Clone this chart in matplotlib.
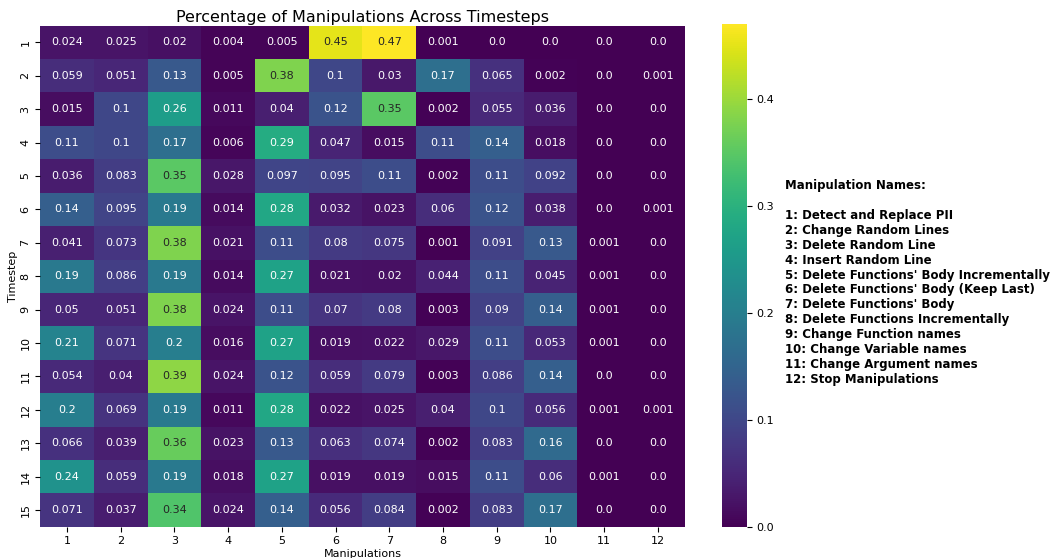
import numpy as np
import matplotlib
matplotlib.use("Agg")
import matplotlib.pyplot as plt
import seaborn as sns

timesteps = [str(i) for i in range(1, 16)]
manipulations = [str(i) for i in range(1, 13)]

row1 = [0.024, 0.025, 0.02, 0.004, 0.005, 0.45, 0.47, 0.001, 0.0, 0.0, 0.0, 0.0]
row2 = [0.059, 0.051, 0.13, 0.005, 0.38, 0.1, 0.03, 0.17, 0.065, 0.002, 0.0, 0.001]
row3 = [0.015, 0.1, 0.26, 0.011, 0.04, 0.12, 0.35, 0.002, 0.055, 0.036, 0.0, 0.0]
row4 = [0.11, 0.1, 0.17, 0.006, 0.29, 0.047, 0.015, 0.11, 0.14, 0.018, 0.0, 0.0]
row5 = [0.036, 0.083, 0.35, 0.028, 0.097, 0.095, 0.11, 0.002, 0.11, 0.092, 0.0, 0.0]
row6 = [0.14, 0.095, 0.19, 0.014, 0.28, 0.032, 0.023, 0.06, 0.12, 0.038, 0.0, 0.001]
row7 = [0.041, 0.073, 0.38, 0.021, 0.11, 0.08, 0.075, 0.001, 0.091, 0.13, 0.001, 0.0]
row8 = [0.19, 0.086, 0.19, 0.014, 0.27, 0.021, 0.02, 0.044, 0.11, 0.045, 0.001, 0.0]
row9 = [0.05, 0.051, 0.38, 0.024, 0.11, 0.07, 0.08, 0.003, 0.09, 0.14, 0.001, 0.0]
row10 = [0.21, 0.071, 0.2, 0.016, 0.27, 0.019, 0.022, 0.029, 0.11, 0.053, 0.001, 0.0]
row11 = [0.054, 0.04, 0.39, 0.024, 0.12, 0.059, 0.079, 0.003, 0.086, 0.14, 0.0, 0.0]
row12 = [0.2, 0.069, 0.19, 0.011, 0.28, 0.022, 0.025, 0.04, 0.1, 0.056, 0.001, 0.001]
row13 = [0.066, 0.039, 0.36, 0.023, 0.13, 0.063, 0.074, 0.002, 0.083, 0.16, 0.0, 0.0]
row14 = [0.24, 0.059, 0.19, 0.018, 0.27, 0.019, 0.019, 0.015, 0.11, 0.06, 0.001, 0.0]
row15 = [0.071, 0.037, 0.34, 0.024, 0.14, 0.056, 0.084, 0.002, 0.083, 0.17, 0.0, 0.0]

manipulation_names = [
    "Detect and Replace PII",
    "Change Random Lines",
    "Delete Random Line",
    "Insert Random Line",
    "Delete Functions' Body Incrementally",
    "Delete Functions' Body (Keep Last)",
    "Delete Functions' Body",
    "Delete Functions Incrementally",
    "Change Function names",
    "Change Variable names",
    "Change Argument names",
    "Stop Manipulations",
]

data = np.array([row1, row2, row3, row4, row5, row6, row7, row8, row9, row10,
                 row11, row12, row13, row14, row15])
annot = np.array([[str(v) for v in r] for r in data])

fig = plt.figure(figsize=(10.55, 5.58), dpi=100)
ax = fig.add_axes([0.038, 0.056, 0.611, 0.898])
cax = fig.add_axes([0.684, 0.056, 0.024, 0.901])

sns.heatmap(data, ax=ax, cbar_ax=cax, cmap="viridis", annot=annot, fmt="",
            annot_kws={"fontsize": 8}, xticklabels=manipulations,
            yticklabels=timesteps)
ax.set_yticklabels(timesteps, rotation=90, va="center", fontsize=8)
ax.set_xticklabels(manipulations, rotation=0, fontsize=8)
ax.set_xlabel("Manipulations", fontsize=8, labelpad=1.5)
ax.set_ylabel("Timestep", fontsize=8, labelpad=2)
ax.set_title("Percentage of Manipulations Across Timesteps", fontsize=11.5, pad=3)
cax.tick_params(labelsize=8)

legend_text = "Manipulation Names:\n\n" + "\n".join(
    f"{i + 1}: {n}" for i, n in enumerate(manipulation_names))
fig.text(0.744, 0.679, legend_text, fontsize=8.5, fontweight="bold",
         va="top", ha="left", linespacing=1.19)

fig.savefig("out.png", dpi=100)
